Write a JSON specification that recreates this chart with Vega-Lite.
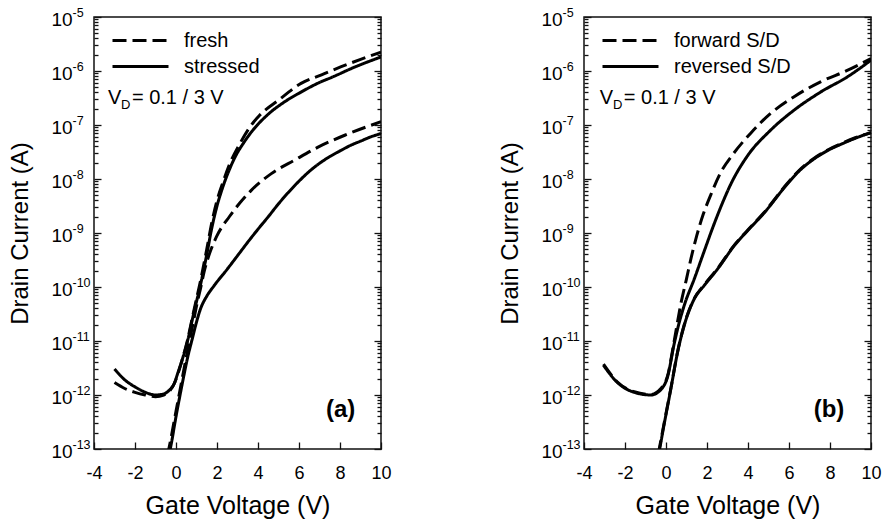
{
  "$schema": "https://vega.github.io/schema/vega-lite/v6.json",
  "padding": {"left": 7, "top": 5, "right": 5, "bottom": 5},
  "config": {
    "font": "Liberation Sans",
    "view": {"stroke": "#111", "strokeWidth": 1.5},
    "axis": {"grid": false, "domain": false, "labelColor": "#000", "titleColor": "#000", "tickColor": "#111", "tickWidth": 1.3, "labelFont": "Liberation Sans", "titleFont": "Liberation Sans", "titleFontWeight": "normal", "labelOverlap": false, "labelFlush": false}
  },
  "datasets": {
    "curves": [
      {"panel":"a","cond":"fresh","vd":"3","v":-3.0,"i":1.70e-12},
      {"panel":"a","cond":"fresh","vd":"3","v":-2.5,"i":1.32e-12},
      {"panel":"a","cond":"fresh","vd":"3","v":-2.0,"i":1.12e-12},
      {"panel":"a","cond":"fresh","vd":"3","v":-1.5,"i":1.0e-12},
      {"panel":"a","cond":"fresh","vd":"3","v":-1.0,"i":9.33e-13},
      {"panel":"a","cond":"fresh","vd":"3","v":-0.6,"i":1.0e-12},
      {"panel":"a","cond":"fresh","vd":"3","v":-0.3,"i":1.20e-12},
      {"panel":"a","cond":"fresh","vd":"3","v":-0.1,"i":1.585e-12},
      {"panel":"a","cond":"fresh","vd":"3","v":0.1,"i":2.51e-12},
      {"panel":"a","cond":"fresh","vd":"3","v":0.3,"i":4.47e-12},
      {"panel":"a","cond":"fresh","vd":"3","v":0.55,"i":1.0e-11},
      {"panel":"a","cond":"fresh","vd":"3","v":0.88,"i":3.80e-11},
      {"panel":"a","cond":"fresh","vd":"3","v":1.2,"i":1.32e-10},
      {"panel":"a","cond":"fresh","vd":"3","v":1.5,"i":5.01e-10},
      {"panel":"a","cond":"fresh","vd":"3","v":1.75,"i":1.585e-9},
      {"panel":"a","cond":"fresh","vd":"3","v":2.0,"i":3.98e-9},
      {"panel":"a","cond":"fresh","vd":"3","v":2.3,"i":8.91e-9},
      {"panel":"a","cond":"fresh","vd":"3","v":2.62,"i":1.905e-8},
      {"panel":"a","cond":"fresh","vd":"3","v":3.11,"i":4.47e-8},
      {"panel":"a","cond":"fresh","vd":"3","v":3.6,"i":9.12e-8},
      {"panel":"a","cond":"fresh","vd":"3","v":4.08,"i":1.51e-7},
      {"panel":"a","cond":"fresh","vd":"3","v":5.0,"i":2.88e-7},
      {"panel":"a","cond":"fresh","vd":"3","v":6.1,"i":5.89e-7},
      {"panel":"a","cond":"fresh","vd":"3","v":7.1,"i":8.51e-7},
      {"panel":"a","cond":"fresh","vd":"3","v":8.06,"i":1.20e-6},
      {"panel":"a","cond":"fresh","vd":"3","v":9.04,"i":1.66e-6},
      {"panel":"a","cond":"fresh","vd":"3","v":10,"i":2.24e-6},

      {"panel":"a","cond":"stressed","vd":"3","v":-3.0,"i":3.02e-12},
      {"panel":"a","cond":"stressed","vd":"3","v":-2.5,"i":1.905e-12},
      {"panel":"a","cond":"stressed","vd":"3","v":-2.0,"i":1.413e-12},
      {"panel":"a","cond":"stressed","vd":"3","v":-1.5,"i":1.122e-12},
      {"panel":"a","cond":"stressed","vd":"3","v":-1.0,"i":1.0e-12},
      {"panel":"a","cond":"stressed","vd":"3","v":-0.6,"i":1.047e-12},
      {"panel":"a","cond":"stressed","vd":"3","v":-0.3,"i":1.259e-12},
      {"panel":"a","cond":"stressed","vd":"3","v":-0.1,"i":1.585e-12},
      {"panel":"a","cond":"stressed","vd":"3","v":0.1,"i":2.63e-12},
      {"panel":"a","cond":"stressed","vd":"3","v":0.3,"i":4.47e-12},
      {"panel":"a","cond":"stressed","vd":"3","v":0.55,"i":9.55e-12},
      {"panel":"a","cond":"stressed","vd":"3","v":0.88,"i":3.47e-11},
      {"panel":"a","cond":"stressed","vd":"3","v":1.2,"i":1.122e-10},
      {"panel":"a","cond":"stressed","vd":"3","v":1.5,"i":3.98e-10},
      {"panel":"a","cond":"stressed","vd":"3","v":1.75,"i":1.259e-9},
      {"panel":"a","cond":"stressed","vd":"3","v":2.0,"i":3.16e-9},
      {"panel":"a","cond":"stressed","vd":"3","v":2.3,"i":7.41e-9},
      {"panel":"a","cond":"stressed","vd":"3","v":2.6,"i":1.48e-8},
      {"panel":"a","cond":"stressed","vd":"3","v":2.9,"i":2.63e-8},
      {"panel":"a","cond":"stressed","vd":"3","v":3.3,"i":4.68e-8},
      {"panel":"a","cond":"stressed","vd":"3","v":3.7,"i":7.59e-8},
      {"panel":"a","cond":"stressed","vd":"3","v":4.5,"i":1.585e-7},
      {"panel":"a","cond":"stressed","vd":"3","v":5.3,"i":2.69e-7},
      {"panel":"a","cond":"stressed","vd":"3","v":6.1,"i":4.07e-7},
      {"panel":"a","cond":"stressed","vd":"3","v":6.9,"i":5.89e-7},
      {"panel":"a","cond":"stressed","vd":"3","v":7.7,"i":7.94e-7},
      {"panel":"a","cond":"stressed","vd":"3","v":8.7,"i":1.175e-6},
      {"panel":"a","cond":"stressed","vd":"3","v":10,"i":1.82e-6},

      {"panel":"a","cond":"fresh","vd":"0.1","v":-0.42,"i":7.59e-14},
      {"panel":"a","cond":"fresh","vd":"0.1","v":-0.35,"i":1.0e-13},
      {"panel":"a","cond":"fresh","vd":"0.1","v":0.0,"i":5.01e-13},
      {"panel":"a","cond":"fresh","vd":"0.1","v":0.25,"i":1.585e-12},
      {"panel":"a","cond":"fresh","vd":"0.1","v":0.5,"i":5.01e-12},
      {"panel":"a","cond":"fresh","vd":"0.1","v":0.71,"i":1.259e-11},
      {"panel":"a","cond":"fresh","vd":"0.1","v":0.88,"i":2.63e-11},
      {"panel":"a","cond":"fresh","vd":"0.1","v":1.04,"i":5.25e-11},
      {"panel":"a","cond":"fresh","vd":"0.1","v":1.2,"i":9.55e-11},
      {"panel":"a","cond":"fresh","vd":"0.1","v":1.37,"i":1.905e-10},
      {"panel":"a","cond":"fresh","vd":"0.1","v":1.61,"i":3.89e-10},
      {"panel":"a","cond":"fresh","vd":"0.1","v":2.0,"i":8.91e-10},
      {"panel":"a","cond":"fresh","vd":"0.1","v":2.6,"i":2.0e-9},
      {"panel":"a","cond":"fresh","vd":"0.1","v":3.1,"i":3.55e-9},
      {"panel":"a","cond":"fresh","vd":"0.1","v":3.67,"i":6.17e-9},
      {"panel":"a","cond":"fresh","vd":"0.1","v":4.65,"i":1.259e-8},
      {"panel":"a","cond":"fresh","vd":"0.1","v":5.79,"i":2.24e-8},
      {"panel":"a","cond":"fresh","vd":"0.1","v":6.93,"i":3.89e-8},
      {"panel":"a","cond":"fresh","vd":"0.1","v":8.23,"i":6.46e-8},
      {"panel":"a","cond":"fresh","vd":"0.1","v":10,"i":1.148e-7},

      {"panel":"a","cond":"stressed","vd":"0.1","v":-0.35,"i":7.59e-14},
      {"panel":"a","cond":"stressed","vd":"0.1","v":-0.28,"i":1.0e-13},
      {"panel":"a","cond":"stressed","vd":"0.1","v":0.0,"i":3.98e-13},
      {"panel":"a","cond":"stressed","vd":"0.1","v":0.3,"i":1.585e-12},
      {"panel":"a","cond":"stressed","vd":"0.1","v":0.6,"i":5.62e-12},
      {"panel":"a","cond":"stressed","vd":"0.1","v":0.8,"i":1.122e-11},
      {"panel":"a","cond":"stressed","vd":"0.1","v":1.0,"i":2.24e-11},
      {"panel":"a","cond":"stressed","vd":"0.1","v":1.2,"i":3.98e-11},
      {"panel":"a","cond":"stressed","vd":"0.1","v":1.5,"i":6.76e-11},
      {"panel":"a","cond":"stressed","vd":"0.1","v":1.85,"i":1.047e-10},
      {"panel":"a","cond":"stressed","vd":"0.1","v":2.5,"i":2.14e-10},
      {"panel":"a","cond":"stressed","vd":"0.1","v":3.0,"i":3.80e-10},
      {"panel":"a","cond":"stressed","vd":"0.1","v":3.5,"i":6.76e-10},
      {"panel":"a","cond":"stressed","vd":"0.1","v":4.0,"i":1.175e-9},
      {"panel":"a","cond":"stressed","vd":"0.1","v":4.5,"i":2.0e-9},
      {"panel":"a","cond":"stressed","vd":"0.1","v":5.0,"i":3.47e-9},
      {"panel":"a","cond":"stressed","vd":"0.1","v":5.5,"i":5.75e-9},
      {"panel":"a","cond":"stressed","vd":"0.1","v":6.0,"i":9.12e-9},
      {"panel":"a","cond":"stressed","vd":"0.1","v":6.5,"i":1.38e-8},
      {"panel":"a","cond":"stressed","vd":"0.1","v":7.0,"i":1.95e-8},
      {"panel":"a","cond":"stressed","vd":"0.1","v":7.5,"i":2.6e-8},
      {"panel":"a","cond":"stressed","vd":"0.1","v":8.0,"i":3.31e-8},
      {"panel":"a","cond":"stressed","vd":"0.1","v":8.5,"i":4.17e-8},
      {"panel":"a","cond":"stressed","vd":"0.1","v":9.0,"i":5.01e-8},
      {"panel":"a","cond":"stressed","vd":"0.1","v":9.5,"i":6.03e-8},
      {"panel":"a","cond":"stressed","vd":"0.1","v":10,"i":6.92e-8},

      {"panel":"b","cond":"forward S/D","vd":"3","v":-3.05,"i":3.72e-12},
      {"panel":"b","cond":"forward S/D","vd":"3","v":-2.37,"i":1.74e-12},
      {"panel":"b","cond":"forward S/D","vd":"3","v":-1.55,"i":1.148e-12},
      {"panel":"b","cond":"forward S/D","vd":"3","v":-0.74,"i":1.023e-12},
      {"panel":"b","cond":"forward S/D","vd":"3","v":-0.25,"i":1.318e-12},
      {"panel":"b","cond":"forward S/D","vd":"3","v":0.08,"i":2.29e-12},
      {"panel":"b","cond":"forward S/D","vd":"3","v":0.4,"i":1.0e-11},
      {"panel":"b","cond":"forward S/D","vd":"3","v":0.73,"i":5.01e-11},
      {"panel":"b","cond":"forward S/D","vd":"3","v":1.0,"i":1.413e-10},
      {"panel":"b","cond":"forward S/D","vd":"3","v":1.22,"i":3.39e-10},
      {"panel":"b","cond":"forward S/D","vd":"3","v":1.5,"i":8.91e-10},
      {"panel":"b","cond":"forward S/D","vd":"3","v":1.82,"i":2.24e-9},
      {"panel":"b","cond":"forward S/D","vd":"3","v":2.2,"i":5.25e-9},
      {"panel":"b","cond":"forward S/D","vd":"3","v":2.64,"i":1.259e-8},
      {"panel":"b","cond":"forward S/D","vd":"3","v":3.29,"i":2.95e-8},
      {"panel":"b","cond":"forward S/D","vd":"3","v":4.11,"i":6.92e-8},
      {"panel":"b","cond":"forward S/D","vd":"3","v":5.09,"i":1.622e-7},
      {"panel":"b","cond":"forward S/D","vd":"3","v":6.23,"i":3.31e-7},
      {"panel":"b","cond":"forward S/D","vd":"3","v":7.54,"i":6.31e-7},
      {"panel":"b","cond":"forward S/D","vd":"3","v":8.84,"i":1.023e-6},
      {"panel":"b","cond":"forward S/D","vd":"3","v":10,"i":1.70e-6},

      {"panel":"b","cond":"reversed S/D","vd":"3","v":-3.05,"i":3.55e-12},
      {"panel":"b","cond":"reversed S/D","vd":"3","v":-2.37,"i":1.70e-12},
      {"panel":"b","cond":"reversed S/D","vd":"3","v":-1.55,"i":1.122e-12},
      {"panel":"b","cond":"reversed S/D","vd":"3","v":-0.74,"i":1.0e-12},
      {"panel":"b","cond":"reversed S/D","vd":"3","v":-0.25,"i":1.259e-12},
      {"panel":"b","cond":"reversed S/D","vd":"3","v":0.08,"i":2.19e-12},
      {"panel":"b","cond":"reversed S/D","vd":"3","v":0.4,"i":8.91e-12},
      {"panel":"b","cond":"reversed S/D","vd":"3","v":0.57,"i":1.698e-11},
      {"panel":"b","cond":"reversed S/D","vd":"3","v":0.89,"i":4.57e-11},
      {"panel":"b","cond":"reversed S/D","vd":"3","v":1.38,"i":1.413e-10},
      {"panel":"b","cond":"reversed S/D","vd":"3","v":1.87,"i":4.68e-10},
      {"panel":"b","cond":"reversed S/D","vd":"3","v":2.3,"i":1.318e-9},
      {"panel":"b","cond":"reversed S/D","vd":"3","v":2.77,"i":3.72e-9},
      {"panel":"b","cond":"reversed S/D","vd":"3","v":3.13,"i":7.59e-9},
      {"panel":"b","cond":"reversed S/D","vd":"3","v":3.94,"i":2.57e-8},
      {"panel":"b","cond":"reversed S/D","vd":"3","v":5.09,"i":7.94e-8},
      {"panel":"b","cond":"reversed S/D","vd":"3","v":6.23,"i":1.862e-7},
      {"panel":"b","cond":"reversed S/D","vd":"3","v":7.54,"i":4.07e-7},
      {"panel":"b","cond":"reversed S/D","vd":"3","v":8.84,"i":7.76e-7},
      {"panel":"b","cond":"reversed S/D","vd":"3","v":10,"i":1.585e-6},

      {"panel":"b","cond":"forward S/D","vd":"0.1","v":-0.38,"i":7.94e-14},
      {"panel":"b","cond":"forward S/D","vd":"0.1","v":-0.33,"i":1.0e-13},
      {"panel":"b","cond":"forward S/D","vd":"0.1","v":-0.08,"i":3.16e-13},
      {"panel":"b","cond":"forward S/D","vd":"0.1","v":0.24,"i":1.35e-12},
      {"panel":"b","cond":"forward S/D","vd":"0.1","v":0.57,"i":6.46e-12},
      {"panel":"b","cond":"forward S/D","vd":"0.1","v":0.89,"i":2.0e-11},
      {"panel":"b","cond":"forward S/D","vd":"0.1","v":1.38,"i":6.17e-11},
      {"panel":"b","cond":"forward S/D","vd":"0.1","v":1.87,"i":1.10e-10},
      {"panel":"b","cond":"forward S/D","vd":"0.1","v":2.53,"i":2.24e-10},
      {"panel":"b","cond":"forward S/D","vd":"0.1","v":3.34,"i":6.03e-10},
      {"panel":"b","cond":"forward S/D","vd":"0.1","v":4.0,"i":1.148e-9},
      {"panel":"b","cond":"forward S/D","vd":"0.1","v":4.76,"i":2.34e-9},
      {"panel":"b","cond":"forward S/D","vd":"0.1","v":5.9,"i":8.13e-9},
      {"panel":"b","cond":"forward S/D","vd":"0.1","v":6.5,"i":1.45e-8},
      {"panel":"b","cond":"forward S/D","vd":"0.1","v":7.21,"i":2.40e-8},
      {"panel":"b","cond":"forward S/D","vd":"0.1","v":8.0,"i":3.63e-8},
      {"panel":"b","cond":"forward S/D","vd":"0.1","v":8.52,"i":4.47e-8},
      {"panel":"b","cond":"forward S/D","vd":"0.1","v":9.2,"i":5.75e-8},
      {"panel":"b","cond":"forward S/D","vd":"0.1","v":10,"i":7.24e-8},

      {"panel":"b","cond":"reversed S/D","vd":"0.1","v":-0.36,"i":7.94e-14},
      {"panel":"b","cond":"reversed S/D","vd":"0.1","v":-0.31,"i":1.0e-13},
      {"panel":"b","cond":"reversed S/D","vd":"0.1","v":-0.08,"i":3.02e-13},
      {"panel":"b","cond":"reversed S/D","vd":"0.1","v":0.24,"i":1.318e-12},
      {"panel":"b","cond":"reversed S/D","vd":"0.1","v":0.57,"i":6.31e-12},
      {"panel":"b","cond":"reversed S/D","vd":"0.1","v":0.89,"i":1.95e-11},
      {"panel":"b","cond":"reversed S/D","vd":"0.1","v":1.38,"i":6.03e-11},
      {"panel":"b","cond":"reversed S/D","vd":"0.1","v":1.87,"i":1.072e-10},
      {"panel":"b","cond":"reversed S/D","vd":"0.1","v":2.53,"i":2.19e-10},
      {"panel":"b","cond":"reversed S/D","vd":"0.1","v":3.34,"i":5.89e-10},
      {"panel":"b","cond":"reversed S/D","vd":"0.1","v":4.0,"i":1.122e-9},
      {"panel":"b","cond":"reversed S/D","vd":"0.1","v":4.76,"i":2.29e-9},
      {"panel":"b","cond":"reversed S/D","vd":"0.1","v":5.9,"i":7.94e-9},
      {"panel":"b","cond":"reversed S/D","vd":"0.1","v":6.5,"i":1.413e-8},
      {"panel":"b","cond":"reversed S/D","vd":"0.1","v":7.21,"i":2.34e-8},
      {"panel":"b","cond":"reversed S/D","vd":"0.1","v":8.0,"i":3.55e-8},
      {"panel":"b","cond":"reversed S/D","vd":"0.1","v":8.52,"i":4.37e-8},
      {"panel":"b","cond":"reversed S/D","vd":"0.1","v":9.2,"i":5.62e-8},
      {"panel":"b","cond":"reversed S/D","vd":"0.1","v":10,"i":7.24e-8}
    ]
  },
  "spacing": 105,
  "resolve": {"scale": {"strokeDash": "independent", "x": "independent", "y": "independent"}, "legend": {"strokeDash": "independent"}},
  "hconcat": [
    {
      "width": 287, "height": 432,
      "resolve": {"axis": {"y": "independent"}},
      "layer": [
        {
          "layer": [
            {
              "data": {"name": "curves"},
              "transform": [{"filter": "datum.panel === 'a'"}],
              "mark": {"type": "line", "color": "#000", "strokeWidth": 3, "interpolate": "monotone", "clip": true},
              "encoding": {
                "x": {"field": "v", "type": "quantitative", "scale": {"domain": [-4, 10], "nice": false, "zero": false},
                      "axis": {"values": [-4, -2, 0, 2, 4, 6, 8, 10], "labelExpr": "replace(datum.label, '−', '-')", "tickSize": -7, "labelFontSize": 18, "labelPadding": 22, "title": "Gate Voltage (V)", "titleFontSize": 25, "titlePadding": 11}},
                "y": {"field": "i", "type": "quantitative", "scale": {"type": "log", "domain": [1e-13, 1e-5], "nice": false},
                      "axis": {"values": [1e-13,2e-13,3e-13,4e-13,5e-13,6e-13,7e-13,8e-13,9e-13,1e-12,2e-12,3e-12,4e-12,5e-12,6e-12,7e-12,8e-12,9e-12,1e-11,2e-11,3e-11,4e-11,5e-11,6e-11,7e-11,8e-11,9e-11,1e-10,2e-10,3e-10,4e-10,5e-10,6e-10,7e-10,8e-10,9e-10,1e-9,2e-9,3e-9,4e-9,5e-9,6e-9,7e-9,8e-9,9e-9,1e-8,2e-8,3e-8,4e-8,5e-8,6e-8,7e-8,8e-8,9e-8,1e-7,2e-7,3e-7,4e-7,5e-7,6e-7,7e-7,8e-7,9e-7,1e-6,2e-6,3e-6,4e-6,5e-6,6e-6,7e-6,8e-6,9e-6,1e-5],
                               "tickSize": {"condition": {"test": "abs(log(datum.value)/LN10 - round(log(datum.value)/LN10)) < 0.01", "value": -7}, "value": -4},
                               "labelExpr": "abs(log(datum.value)/LN10 - round(log(datum.value)/LN10)) < 0.01 ? '10' : ''",
                               "labelAlign": "left", "labelFontSize": 19, "labelPadding": 50, "labelOffset": 2,
                               "title": "Drain Current (A)", "titleFontSize": 24, "titlePadding": 16}},
                "strokeDash": {"field": "cond", "type": "nominal", "scale": {"domain": ["fresh", "stressed"], "range": [[14, 6], [1, 0]]},
                               "legend": {"orient": "none", "legendX": 31, "legendY": 8, "title": null, "symbolType": "M-2,0H2", "symbolSize": 784, "symbolStrokeWidth": 3, "symbolStrokeColor": "#000", "symbolFillColor": "transparent", "labelFontSize": 20, "labelColor": "#000", "labelOffset": 28, "rowPadding": -2}},
                "detail": {"field": "vd"}
              }
            },
            {
              "data": {"values": [{}]},
              "mark": {"type": "text", "align": "left", "baseline": "alphabetic", "fontSize": 20, "color": "#000"},
              "encoding": {"x": {"datum": -3.32, "type": "quantitative"}, "y": {"datum": 2.45e-7, "type": "quantitative"}, "text": {"value": "V"}}
            },
            {
              "data": {"values": [{}]},
              "mark": {"type": "text", "align": "left", "baseline": "alphabetic", "fontSize": 13, "color": "#000"},
              "encoding": {"x": {"datum": -2.68, "type": "quantitative"}, "y": {"datum": 1.98e-7, "type": "quantitative"}, "text": {"value": "D"}}
            },
            {
              "data": {"values": [{}]},
              "mark": {"type": "text", "align": "left", "baseline": "alphabetic", "fontSize": 20, "color": "#000"},
              "encoding": {"x": {"datum": -2.15, "type": "quantitative"}, "y": {"datum": 2.45e-7, "type": "quantitative"}, "text": {"value": "= 0.1 / 3 V"}}
            },
            {
              "data": {"values": [{}]},
              "mark": {"type": "text", "align": "right", "baseline": "alphabetic", "fontSize": 24, "fontWeight": "bold", "color": "#000"},
              "encoding": {"x": {"datum": 8.75, "type": "quantitative"}, "y": {"datum": 3.89e-13, "type": "quantitative"}, "text": {"value": "(a)"}}
            }
          ]
        },
        {
          "data": {"name": "curves"},
          "transform": [{"filter": "datum.panel === 'a'"}],
          "mark": {"type": "point", "opacity": 0},
          "encoding": {
            "x": {"field": "v", "type": "quantitative"},
            "y": {"field": "i", "type": "quantitative",
                  "axis": {"orient": "left", "values": [1e-13,1e-12,1e-11,1e-10,1e-9,1e-8,1e-7,1e-6,1e-5], "ticks": false,
                           "labelExpr": "'-' + (-round(log(datum.value)/LN10))",
                           "labelAlign": "left", "labelFontSize": 12.5, "labelPadding": 22, "labelOffset": -5, "title": null}}
          }
        },
        {
          "data": {"name": "curves"},
          "transform": [{"filter": "datum.panel === 'a'"}],
          "mark": {"type": "point", "opacity": 0},
          "encoding": {
            "x": {"field": "v", "type": "quantitative"},
            "y": {"field": "i", "type": "quantitative",
                  "axis": {"orient": "right", "values": [1e-13,2e-13,3e-13,4e-13,5e-13,6e-13,7e-13,8e-13,9e-13,1e-12,2e-12,3e-12,4e-12,5e-12,6e-12,7e-12,8e-12,9e-12,1e-11,2e-11,3e-11,4e-11,5e-11,6e-11,7e-11,8e-11,9e-11,1e-10,2e-10,3e-10,4e-10,5e-10,6e-10,7e-10,8e-10,9e-10,1e-9,2e-9,3e-9,4e-9,5e-9,6e-9,7e-9,8e-9,9e-9,1e-8,2e-8,3e-8,4e-8,5e-8,6e-8,7e-8,8e-8,9e-8,1e-7,2e-7,3e-7,4e-7,5e-7,6e-7,7e-7,8e-7,9e-7,1e-6,2e-6,3e-6,4e-6,5e-6,6e-6,7e-6,8e-6,9e-6,1e-5],
                           "tickSize": {"condition": {"test": "abs(log(datum.value)/LN10 - round(log(datum.value)/LN10)) < 0.01", "value": -7}, "value": -4},
                           "labels": false, "title": null}}
          }
        }
      ]
    },
    {
      "width": 287, "height": 432,
      "resolve": {"axis": {"y": "independent"}},
      "layer": [
        {
          "layer": [
            {
              "data": {"name": "curves"},
              "transform": [{"filter": "datum.panel === 'b'"}],
              "mark": {"type": "line", "color": "#000", "strokeWidth": 3, "interpolate": "monotone", "clip": true},
              "encoding": {
                "x": {"field": "v", "type": "quantitative", "scale": {"domain": [-4, 10], "nice": false, "zero": false},
                      "axis": {"values": [-4, -2, 0, 2, 4, 6, 8, 10], "labelExpr": "replace(datum.label, '−', '-')", "tickSize": -7, "labelFontSize": 18, "labelPadding": 22, "title": "Gate Voltage (V)", "titleFontSize": 25, "titlePadding": 11}},
                "y": {"field": "i", "type": "quantitative", "scale": {"type": "log", "domain": [1e-13, 1e-5], "nice": false},
                      "axis": {"values": [1e-13,2e-13,3e-13,4e-13,5e-13,6e-13,7e-13,8e-13,9e-13,1e-12,2e-12,3e-12,4e-12,5e-12,6e-12,7e-12,8e-12,9e-12,1e-11,2e-11,3e-11,4e-11,5e-11,6e-11,7e-11,8e-11,9e-11,1e-10,2e-10,3e-10,4e-10,5e-10,6e-10,7e-10,8e-10,9e-10,1e-9,2e-9,3e-9,4e-9,5e-9,6e-9,7e-9,8e-9,9e-9,1e-8,2e-8,3e-8,4e-8,5e-8,6e-8,7e-8,8e-8,9e-8,1e-7,2e-7,3e-7,4e-7,5e-7,6e-7,7e-7,8e-7,9e-7,1e-6,2e-6,3e-6,4e-6,5e-6,6e-6,7e-6,8e-6,9e-6,1e-5],
                               "tickSize": {"condition": {"test": "abs(log(datum.value)/LN10 - round(log(datum.value)/LN10)) < 0.01", "value": -7}, "value": -4},
                               "labelExpr": "abs(log(datum.value)/LN10 - round(log(datum.value)/LN10)) < 0.01 ? '10' : ''",
                               "labelAlign": "left", "labelFontSize": 19, "labelPadding": 50, "labelOffset": 2,
                               "title": "Drain Current (A)", "titleFontSize": 24, "titlePadding": 16}},
                "strokeDash": {"field": "cond", "type": "nominal", "scale": {"domain": ["forward S/D", "reversed S/D"], "range": [[14, 6], [1, 0]]},
                               "legend": {"orient": "none", "legendX": 31, "legendY": 8, "title": null, "symbolType": "M-2,0H2", "symbolSize": 784, "symbolStrokeWidth": 3, "symbolStrokeColor": "#000", "symbolFillColor": "transparent", "labelFontSize": 20, "labelColor": "#000", "labelOffset": 28, "rowPadding": -2}},
                "detail": {"field": "vd"}
              }
            },
            {
              "data": {"values": [{}]},
              "mark": {"type": "text", "align": "left", "baseline": "alphabetic", "fontSize": 20, "color": "#000"},
              "encoding": {"x": {"datum": -3.23, "type": "quantitative"}, "y": {"datum": 2.45e-7, "type": "quantitative"}, "text": {"value": "V"}}
            },
            {
              "data": {"values": [{}]},
              "mark": {"type": "text", "align": "left", "baseline": "alphabetic", "fontSize": 13, "color": "#000"},
              "encoding": {"x": {"datum": -2.59, "type": "quantitative"}, "y": {"datum": 1.98e-7, "type": "quantitative"}, "text": {"value": "D"}}
            },
            {
              "data": {"values": [{}]},
              "mark": {"type": "text", "align": "left", "baseline": "alphabetic", "fontSize": 20, "color": "#000"},
              "encoding": {"x": {"datum": -2.06, "type": "quantitative"}, "y": {"datum": 2.45e-7, "type": "quantitative"}, "text": {"value": "= 0.1 / 3 V"}}
            },
            {
              "data": {"values": [{}]},
              "mark": {"type": "text", "align": "right", "baseline": "alphabetic", "fontSize": 24, "fontWeight": "bold", "color": "#000"},
              "encoding": {"x": {"datum": 8.7, "type": "quantitative"}, "y": {"datum": 3.89e-13, "type": "quantitative"}, "text": {"value": "(b)"}}
            }
          ]
        },
        {
          "data": {"name": "curves"},
          "transform": [{"filter": "datum.panel === 'b'"}],
          "mark": {"type": "point", "opacity": 0},
          "encoding": {
            "x": {"field": "v", "type": "quantitative"},
            "y": {"field": "i", "type": "quantitative",
                  "axis": {"orient": "left", "values": [1e-13,1e-12,1e-11,1e-10,1e-9,1e-8,1e-7,1e-6,1e-5], "ticks": false,
                           "labelExpr": "'-' + (-round(log(datum.value)/LN10))",
                           "labelAlign": "left", "labelFontSize": 12.5, "labelPadding": 22, "labelOffset": -5, "title": null}}
          }
        },
        {
          "data": {"name": "curves"},
          "transform": [{"filter": "datum.panel === 'b'"}],
          "mark": {"type": "point", "opacity": 0},
          "encoding": {
            "x": {"field": "v", "type": "quantitative"},
            "y": {"field": "i", "type": "quantitative",
                  "axis": {"orient": "right", "values": [1e-13,2e-13,3e-13,4e-13,5e-13,6e-13,7e-13,8e-13,9e-13,1e-12,2e-12,3e-12,4e-12,5e-12,6e-12,7e-12,8e-12,9e-12,1e-11,2e-11,3e-11,4e-11,5e-11,6e-11,7e-11,8e-11,9e-11,1e-10,2e-10,3e-10,4e-10,5e-10,6e-10,7e-10,8e-10,9e-10,1e-9,2e-9,3e-9,4e-9,5e-9,6e-9,7e-9,8e-9,9e-9,1e-8,2e-8,3e-8,4e-8,5e-8,6e-8,7e-8,8e-8,9e-8,1e-7,2e-7,3e-7,4e-7,5e-7,6e-7,7e-7,8e-7,9e-7,1e-6,2e-6,3e-6,4e-6,5e-6,6e-6,7e-6,8e-6,9e-6,1e-5],
                           "tickSize": {"condition": {"test": "abs(log(datum.value)/LN10 - round(log(datum.value)/LN10)) < 0.01", "value": -7}, "value": -4},
                           "labels": false, "title": null}}
          }
        }
      ]
    }
  ]
}
